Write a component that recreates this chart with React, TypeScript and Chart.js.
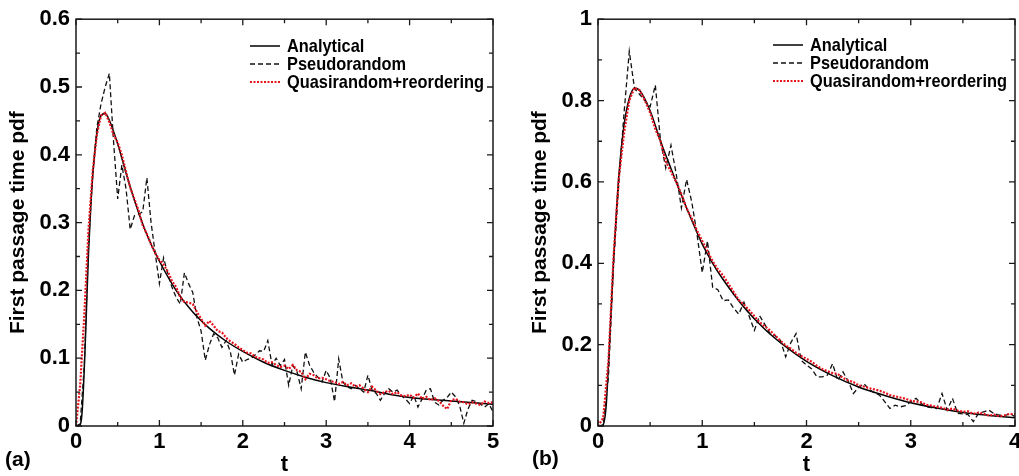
import React, { useEffect, useRef } from "react";
import { Chart, registerables } from "chart.js";

Chart.register(...registerables);

// ---------- Panel (a) data ----------
const tAnalyticA = [0, 0.05, 0.06, 0.07, 0.08, 0.09, 0.1, 0.11, 0.125, 0.14, 0.15, 0.175, 0.2, 0.25, 0.3, 0.35, 0.4, 0.5, 0.6, 0.7, 0.8, 0.9, 1, 1.2, 1.4, 1.6, 1.8, 2, 2.25, 2.5, 2.75, 3, 3.5, 4, 4.5, 5];
const analyticA = [0, 0.002, 0.006, 0.016, 0.034, 0.058, 0.087, 0.118, 0.17, 0.222, 0.255, 0.318, 0.368, 0.431, 0.458, 0.461, 0.451, 0.416, 0.373, 0.333, 0.298, 0.268, 0.243, 0.2, 0.168, 0.144, 0.125, 0.11, 0.094, 0.082, 0.072, 0.064, 0.053, 0.042, 0.037, 0.032];
const tStepA = 0.05;
const pseudoA = [
  0, 0.003, 0.09, 0.27, 0.37, 0.44, 0.475, 0.5, 0.52, 0.42,
  0.335, 0.385, 0.35, 0.29, 0.31, 0.312, 0.316, 0.366, 0.3, 0.255,
  0.21, 0.248, 0.225, 0.205, 0.19, 0.18, 0.226, 0.21, 0.197, 0.16,
  0.14, 0.097, 0.12, 0.136, 0.13, 0.116, 0.126, 0.11, 0.075, 0.106,
  0.094, 0.098, 0.1, 0.105, 0.111, 0.11, 0.126, 0.09, 0.1, 0.089,
  0.098, 0.06, 0.089, 0.08, 0.055, 0.109, 0.09, 0.079, 0.072, 0.065,
  0.082, 0.07, 0.036, 0.099, 0.065, 0.058, 0.055, 0.06, 0.055, 0.05,
  0.075, 0.053, 0.048, 0.038, 0.048, 0.055, 0.05, 0.053, 0.045, 0.04,
  0.033, 0.045, 0.028, 0.04, 0.053, 0.055, 0.035, 0.031, 0.038, 0.042,
  0.05, 0.043, 0.03, 0.004, 0.025, 0.038, 0.036, 0.032, 0.028, 0.033,
  0.021,
];
const quasiA = [
  0, 0.06, 0.165, 0.29, 0.375, 0.43, 0.458, 0.462, 0.448, 0.43,
  0.418, 0.4, 0.375, 0.352, 0.335, 0.318, 0.296, 0.283, 0.268, 0.255,
  0.245, 0.238, 0.228, 0.214, 0.205, 0.19, 0.183, 0.182, 0.18, 0.168,
  0.158, 0.148, 0.155, 0.148, 0.14, 0.138, 0.13, 0.125, 0.121, 0.116,
  0.112, 0.108, 0.107, 0.102, 0.1, 0.098, 0.093, 0.094, 0.09, 0.087,
  0.089, 0.084, 0.09, 0.082, 0.08, 0.069, 0.077, 0.075, 0.07, 0.071,
  0.069, 0.066, 0.065, 0.062, 0.065, 0.06, 0.063, 0.058, 0.06, 0.055,
  0.05, 0.058, 0.052, 0.047, 0.05, 0.052, 0.047, 0.05, 0.045, 0.044,
  0.046, 0.042, 0.048, 0.04, 0.043, 0.038, 0.041, 0.037, 0.03, 0.025,
  0.038, 0.04, 0.036, 0.035, 0.032, 0.035, 0.033, 0.031, 0.036, 0.034,
  0.035,
];

// ---------- Panel (b) data ----------
const tAnalyticB = [0, 0.05, 0.06, 0.07, 0.08, 0.09, 0.1, 0.11, 0.125, 0.14, 0.15, 0.175, 0.2, 0.25, 0.3, 0.35, 0.4, 0.5, 0.6, 0.7, 0.8, 0.9, 1, 1.1, 1.2, 1.4, 1.6, 1.8, 2, 2.25, 2.5, 2.75, 3, 3.25, 3.5, 3.75, 4];
const analyticB = [0, 0.003, 0.012, 0.028, 0.055, 0.1, 0.148, 0.2, 0.28, 0.36, 0.41, 0.52, 0.615, 0.74, 0.805, 0.83, 0.825, 0.775, 0.7, 0.633, 0.567, 0.505, 0.447, 0.4, 0.36, 0.292, 0.238, 0.195, 0.159, 0.124, 0.096, 0.075, 0.057, 0.044, 0.033, 0.026, 0.02];
const tStepB = 0.05;
const pseudoB = [
  0, 0.002, 0.12, 0.4, 0.6, 0.77, 0.921, 0.83, 0.815, 0.8,
  0.785, 0.838, 0.7, 0.634, 0.69, 0.62, 0.536, 0.606, 0.55, 0.471,
  0.377, 0.455, 0.341, 0.335, 0.308, 0.31, 0.29, 0.275, 0.304, 0.27,
  0.235, 0.271, 0.25, 0.227, 0.222, 0.21, 0.17, 0.205, 0.227, 0.161,
  0.15, 0.14, 0.121, 0.121, 0.125, 0.153, 0.112, 0.133, 0.11, 0.08,
  0.095, 0.104, 0.09, 0.082, 0.076, 0.06, 0.043, 0.051, 0.047, 0.05,
  0.06, 0.068, 0.055, 0.047, 0.045, 0.043, 0.08, 0.039, 0.068, 0.031,
  0.03, 0.028, 0.011, 0.031, 0.035, 0.039, 0.03, 0.027, 0.025, 0.031,
  0.023,
];
const quasiB = [
  0, 0.02, 0.16, 0.42, 0.61, 0.72, 0.8, 0.832, 0.825, 0.8,
  0.77, 0.73, 0.7, 0.65, 0.625, 0.6, 0.57, 0.535, 0.51, 0.48,
  0.455, 0.43, 0.405, 0.385, 0.37, 0.35, 0.33, 0.31, 0.298, 0.285,
  0.27, 0.255, 0.245, 0.235, 0.222, 0.21, 0.198, 0.19, 0.18, 0.172,
  0.165, 0.158, 0.148, 0.14, 0.135, 0.13, 0.128, 0.118, 0.112, 0.108,
  0.1, 0.097, 0.093, 0.09, 0.087, 0.082, 0.076, 0.073, 0.07, 0.067,
  0.062, 0.06, 0.058, 0.052, 0.05, 0.047, 0.045, 0.04, 0.043, 0.038,
  0.035, 0.036, 0.03, 0.033, 0.03, 0.025, 0.028, 0.024, 0.026, 0.03,
  0.028,
];

const seriesLabels = ["Analytical", "Pseudorandom", "Quasirandom+reordering"];
const xLabel = "t";
const yLabel = "First passage time pdf";

const FONT = "'Liberation Sans', Arial, Helvetica, sans-serif";

const decorPlugin = {
  id: "decor",
  afterDraw(chart: any, _args: any, opts: any) {
    const { ctx, chartArea: ca, scales } = chart;
    const xs = scales.x;
    const ys = scales.y;
    ctx.save();
    ctx.strokeStyle = "#1a1a1a";
    ctx.lineWidth = 1.3;
    ctx.beginPath();
    const nx = Math.round((xs.max - xs.min) / opts.xMinor);
    for (let i = 0; i <= nx; i++) {
      const v = xs.min + i * opts.xMinor;
      const len = i % opts.xPer === 0 ? 6 : 4;
      const px = xs.getPixelForValue(v);
      ctx.moveTo(px, ca.bottom);
      ctx.lineTo(px, ca.bottom - len);
      ctx.moveTo(px, ca.top);
      ctx.lineTo(px, ca.top + len);
    }
    const ny = Math.round((ys.max - ys.min) / opts.yMinor);
    for (let i = 0; i <= ny; i++) {
      const v = ys.min + i * opts.yMinor;
      const len = i % opts.yPer === 0 ? 6 : 4;
      const py = ys.getPixelForValue(v);
      ctx.moveTo(ca.left, py);
      ctx.lineTo(ca.left + len, py);
      ctx.moveTo(ca.right, py);
      ctx.lineTo(ca.right - len, py);
    }
    ctx.stroke();
    ctx.lineWidth = 1.5;
    ctx.strokeRect(ca.left, ca.top, ca.right - ca.left, ca.bottom - ca.top);

    // legend
    const ds = chart.data.datasets;
    ds.forEach((d: any, i: number) => {
      const by = opts.legendY + i * opts.legendGap;
      const ly = by - 5.5;
      ctx.save();
      ctx.strokeStyle = d.borderColor;
      ctx.lineWidth = d.borderWidth;
      ctx.setLineDash(d.borderDash || []);
      ctx.beginPath();
      ctx.moveTo(opts.legendX, ly);
      ctx.lineTo(opts.legendX + 30, ly);
      ctx.stroke();
      ctx.restore();
      ctx.save();
      ctx.fillStyle = "#000";
      ctx.font = `bold 18.5px ${FONT}`;
      ctx.textBaseline = "alphabetic";
      ctx.translate(opts.legendX + 37, by);
      ctx.scale(0.885, 1);
      ctx.fillText(d.label, 0, 0);
      ctx.restore();
    });

    // panel label
    ctx.fillStyle = "#000";
    ctx.font = `bold 21px ${FONT}`;
    ctx.textBaseline = "alphabetic";
    ctx.fillText(opts.label, opts.labelX, opts.labelY);
    ctx.restore();
  },
};

function toPoints(ts: number[], vs: number[]) {
  return vs.map((v, i) => ({ x: ts[i], y: v }));
}
function gridPoints(step: number, vs: number[]) {
  return vs.map((v, i) => ({ x: +(i * step).toFixed(4), y: v }));
}
function fmtTick(v: any) {
  return String(Math.round(Number(v) * 100) / 100);
}

function makeConfig(p: any) {
  return {
    type: "line",
    data: {
      datasets: [
        {
          label: seriesLabels[0],
          data: toPoints(p.tA, p.analytic),
          borderColor: "#000000",
          borderWidth: 1.5,
          borderDash: [],
          pointRadius: 0,
          cubicInterpolationMode: "monotone",
          fill: false,
          order: 3,
        },
        {
          label: seriesLabels[1],
          data: gridPoints(p.step, p.pseudo),
          borderColor: "#111111",
          borderWidth: 1.3,
          borderDash: [5, 3],
          pointRadius: 0,
          tension: 0,
          fill: false,
          order: 2,
        },
        {
          label: seriesLabels[2],
          data: gridPoints(p.step, p.quasi),
          borderColor: "#e8121c",
          borderWidth: 2.2,
          borderDash: [2, 1.5],
          pointRadius: 0,
          tension: 0,
          fill: false,
          order: 1,
        },
      ],
    },
    options: {
      responsive: false,
      animation: false,
      devicePixelRatio: 1,
      layout: { padding: { left: 0, top: 17, right: p.padRight, bottom: 0 } },
      plugins: {
        legend: { display: false },
        tooltip: { enabled: false },
        decor: p.decor,
      },
      scales: {
        x: {
          type: "linear",
          min: 0,
          max: p.xMax,
          grid: { display: false, drawTicks: false },
          border: { display: false },
          ticks: {
            stepSize: 1,
            autoSkip: false,
            padding: 3,
            color: "#000",
            callback: fmtTick,
            font: { family: FONT, size: 22, weight: "bold" },
          },
          title: {
            display: true,
            text: xLabel,
            color: "#000",
            font: { family: FONT, size: 22, weight: "bold", lineHeight: 1 },
            padding: { top: 0, bottom: 0 },
          },
          afterFit(scale: any) {
            scale.height = 50;
          },
        },
        y: {
          type: "linear",
          min: 0,
          max: p.yMax,
          grid: { display: false, drawTicks: false },
          border: { display: false },
          ticks: {
            stepSize: p.yStep,
            autoSkip: false,
            padding: 6,
            color: "#000",
            callback: fmtTick,
            font: { family: FONT, size: 22, weight: "bold" },
          },
          title: {
            display: true,
            text: yLabel,
            color: "#000",
            font: { family: FONT, size: 21, weight: "bold", lineHeight: 1 },
            padding: { top: p.yTitlePad, bottom: 0 },
          },
          afterFit(scale: any) {
            scale.width = p.yAxisWidth;
          },
        },
      },
    },
    plugins: [decorPlugin],
  };
}

function Panel(props: { cfg: any; left: number; width: number }) {
  const ref = useRef<HTMLCanvasElement>(null);
  useEffect(() => {
    if (!ref.current) return;
    const chart = new Chart(ref.current, makeConfig(props.cfg) as any);
    return () => chart.destroy();
  }, []);
  return (
    <canvas
      ref={ref}
      width={props.width}
      height={476}
      style={{ position: "absolute", left: props.left, top: 0, width: props.width, height: 476 }}
    />
  );
}

const panelA = {
  tA: tAnalyticA,
  analytic: analyticA,
  step: tStepA,
  pseudo: pseudoA,
  quasi: quasiA,
  xMax: 5,
  yMax: 0.6,
  yStep: 0.1,
  padRight: 17,
  yAxisWidth: 76,
  yTitlePad: 7.5,
  decor: { xMinor: 0.5, xPer: 2, yMinor: 0.05, yPer: 2, legendX: 250, legendY: 51.5, legendGap: 18, label: "(a)", labelX: 5, labelY: 466 },
};

const panelB = {
  tA: tAnalyticB,
  analytic: analyticB,
  step: tStepB,
  pseudo: pseudoB,
  quasi: quasiB,
  xMax: 4,
  yMax: 1,
  yStep: 0.2,
  padRight: 25,
  yAxisWidth: 88,
  yTitlePad: 19.5,
  decor: { xMinor: 0.5, xPer: 2, yMinor: 0.1, yPer: 2, legendX: 263, legendY: 50.5, legendGap: 18, label: "(b)", labelX: 22, labelY: 465 },
};

export default function App() {
  return (
    <div
      style={{
        position: "absolute",
        left: 0,
        top: 0,
        width: 1019,
        height: 476,
        overflow: "hidden",
        background: "#fff",
      }}
    >
      <Panel cfg={panelA} left={0} width={510} />
      <Panel cfg={panelB} left={510} width={530} />
    </div>
  );
}
